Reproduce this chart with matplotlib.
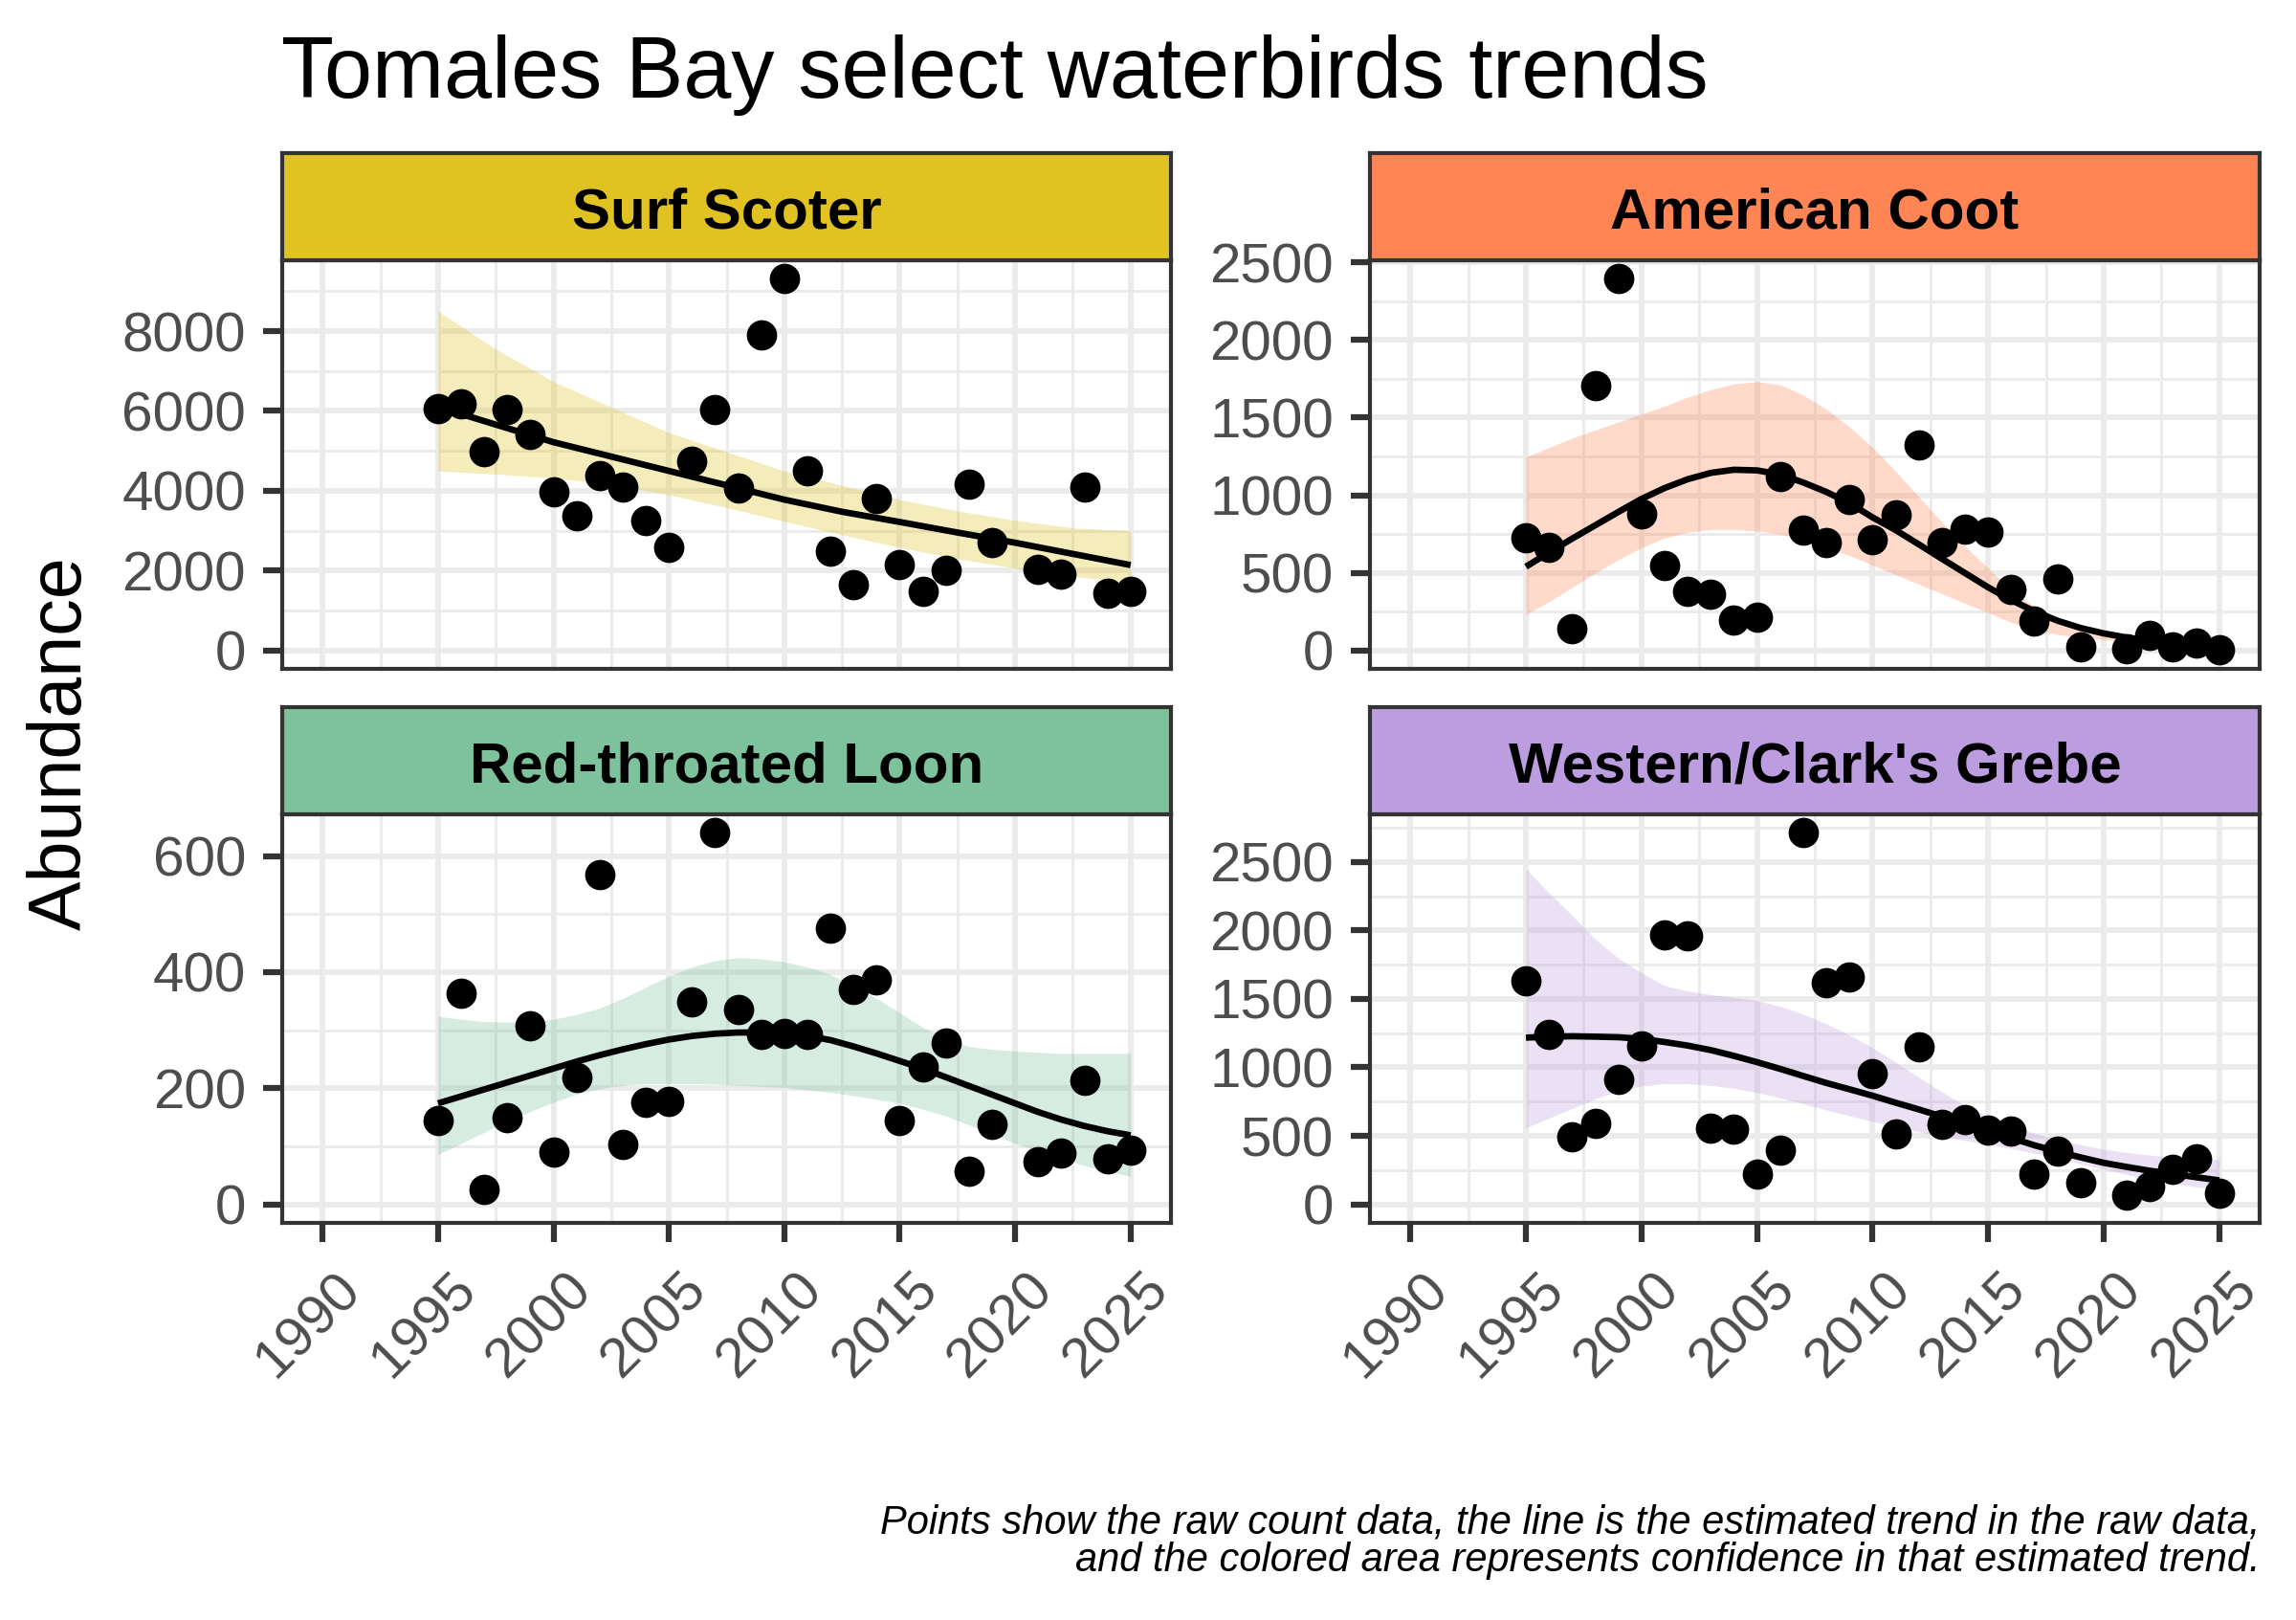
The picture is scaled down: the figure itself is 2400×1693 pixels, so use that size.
import matplotlib
matplotlib.use("Agg")
import matplotlib.pyplot as plt
import numpy as np
from matplotlib.ticker import MultipleLocator
from matplotlib.transforms import ScaledTranslation

plt.rcParams['font.family'] = ['Liberation Sans', 'DejaVu Sans']

# ---------------- data ----------------
years = [1995, 1996, 1997, 1998, 1999, 2000, 2001, 2002, 2003, 2004,
         2005, 2006, 2007, 2008, 2009, 2010, 2011, 2012, 2013, 2014,
         2015, 2016, 2017, 2018, 2019, 2021, 2022, 2023, 2024, 2025]

species = ["Surf Scoter", "American Coot", "Red-throated Loon", "Western/Clark's Grebe"]
strip_colors = ["#E0C322", "#FF8554", "#7DC29C", "#BC9DE0"]

surf_scoter = [6050, 6180, 4990, 6030, 5410, 3980, 3380, 4390, 4100, 3260,
               2580, 4740, 6030, 4060, 7910, 9310, 4500, 2480, 1640, 3800,
               2140, 1470, 2000, 4160, 2700, 2030, 1920, 4080, 1420, 1470]
american_coot = [728, 662, 138, 1706, 2395, 878, 545, 378, 364, 195,
                 214, 1123, 775, 693, 975, 713, 872, 1322, 693, 779,
                 765, 395, 189, 461, 21, 8, 97, 25, 49, 4]
rt_loon = [145, 364, 26, 150, 307, 90, 219, 568, 104, 176,
           178, 349, 640, 335, 293, 294, 293, 475, 371, 386,
           145, 236, 278, 57, 138, 74, 89, 214, 79, 94]
wc_grebe = [1632, 1241, 490, 588, 909, 1154, 1970, 1959, 553, 548,
            222, 392, 2712, 1616, 1660, 951, 513, 1147, 583, 618,
            543, 536, 222, 385, 156, 65, 128, 257, 331, 82]

# estimated trend (line) and confidence band
surf_trend_years = [1995, 1997.5, 2000, 2002.5, 2005, 2007.5, 2010, 2012.5,
                    2015, 2017.5, 2020, 2022.5, 2025]
surf_fit = [6100, 5656, 5216, 4856, 4496, 4136, 3776, 3472, 3216, 2952, 2696, 2416, 2136]
surf_hi = [8496, 7552, 6736, 6096, 5456, 4976, 4496, 4136, 3776, 3496, 3256, 3072, 2992]
surf_lo = [4496, 4416, 4320, 4160, 3896, 3576, 3232, 2896, 2576, 2296, 2056, 1856, 1696]

trend_years = [1995, 1996, 1997, 1998, 1999, 2000, 2001, 2002, 2003, 2004,
               2005, 2006, 2007, 2008, 2009, 2010, 2011, 2012, 2013, 2014,
               2015, 2016, 2017, 2018, 2019, 2020, 2021, 2022, 2023, 2024, 2025]

coot_fit = [539, 631, 720, 806, 892, 976, 1046, 1103, 1144, 1164,
            1160, 1134, 1082, 1021, 949, 857, 775, 683, 590, 498,
            406, 324, 252, 191, 144, 109, 82, 62, 45, 33, 24]
coot_hi = [1246, 1308, 1369, 1421, 1472, 1523, 1574, 1632, 1681, 1718,
           1732, 1712, 1646, 1554, 1441, 1308, 1154, 990, 826, 672,
           529, 385, 283, 211, 160, 135, 105, 82, 64, 51, 40]
coot_lo = [232, 314, 406, 498, 584, 662, 724, 761, 779, 779,
           769, 750, 713, 662, 611, 549, 488, 426, 365, 303,
           242, 180, 133, 102, 82, 68, 57, 47, 38, 31, 25]

loon_fit = [174, 186, 198, 210, 222, 234, 246, 257, 267, 276,
            284, 290, 294, 296, 296, 294, 290, 283, 272, 260,
            247, 234, 219, 204, 189, 174, 159, 146, 135, 126, 119]
loon_hi = [324, 319, 315, 314, 315, 319, 327, 338, 355, 374,
           393, 409, 420, 425, 423, 418, 409, 396, 377, 355,
           330, 305, 285, 272, 267, 264, 262, 260, 260, 260, 260]
loon_lo = [86, 105, 124, 144, 160, 176, 190, 199, 205, 208,
           208, 208, 207, 205, 203, 201, 197, 193, 187, 181,
           174, 164, 152, 137, 121, 105, 92, 79, 67, 57, 48]

grebe_fit = [1217, 1224, 1227, 1224, 1220, 1208, 1185, 1159, 1126, 1084,
             1038, 989, 937, 886, 840, 793, 742, 693, 641, 590,
             536, 485, 431, 385, 343, 303, 273, 245, 222, 198, 175]
grebe_hi = [2449, 2274, 2110, 1936, 1796, 1691, 1597, 1558, 1532, 1511,
            1488, 1446, 1388, 1318, 1236, 1143, 1038, 928, 821, 723,
            641, 576, 518, 471, 436, 403, 378, 359, 343, 331, 326]
grebe_lo = [560, 630, 700, 770, 828, 863, 881, 881, 868, 847,
            816, 777, 735, 688, 646, 606, 567, 529, 494, 466,
            438, 408, 373, 333, 296, 257, 217, 182, 152, 128, 105]

counts = [surf_scoter, american_coot, rt_loon, wc_grebe]
fit_years = [surf_trend_years, trend_years, trend_years, trend_years]
fits = [surf_fit, coot_fit, loon_fit, grebe_fit]
his = [surf_hi, coot_hi, loon_hi, grebe_hi]
los = [surf_lo, coot_lo, loon_lo, grebe_lo]
y_major = [2000, 500, 200, 500]

x_ticks = [1990, 1995, 2000, 2005, 2010, 2015, 2020, 2025]

title = "Tomales Bay select waterbirds trends"
ylabel = "Abundance"
caption1 = "Points show the raw count data, the line is the estimated trend in the raw data,"
caption2 = "and the colored area represents confidence in that estimated trend."

# ---------------- layout ----------------
W, H = 2400, 1693
fig = plt.figure(figsize=(8, H / 300), dpi=300)

def rect(x0, y0, x1, y1):
    return [x0 / W, 1 - y1 / H, (x1 - x0) / W, (y1 - y0) / H]

panel_x = [(295, 1224), (1432, 2362)]
panel_y = [(272, 699), (851, 1278)]
strip_h = 112

grid_c = "#EBEBEB"
dark = "#333333"

xr = (1990, 2025)
xpad = 0.05 * (xr[1] - xr[0])

for i in range(4):
    r, c = divmod(i, 2)
    x0, x1 = panel_x[c]
    y0, y1 = panel_y[r]
    ax = fig.add_axes(rect(x0, y0, x1, y1))
    col = strip_colors[i]

    ax.fill_between(fit_years[i], los[i], his[i], color=col, alpha=0.3, lw=0, zorder=2)
    ax.plot(fit_years[i], fits[i], color="black", lw=1.6, zorder=3,
            solid_capstyle="butt", solid_joinstyle="round")
    ax.scatter(years, counts[i], s=58, color="black", lw=0, zorder=4)

    ax.set_xlim(xr[0] - xpad, xr[1] + xpad)
    lo = min(0, min(counts[i]), min(los[i]))
    hi = max(max(counts[i]), max(his[i]))
    ypad = 0.05 * (hi - lo)
    ax.set_ylim(lo - ypad, hi + ypad)

    ax.set_xticks(x_ticks)
    ax.xaxis.set_minor_locator(MultipleLocator(2.5))
    ax.yaxis.set_major_locator(MultipleLocator(y_major[i]))
    ax.yaxis.set_minor_locator(MultipleLocator(y_major[i] / 2))

    ax.set_axisbelow(True)
    ax.grid(which="major", color=grid_c, lw=1.4, zorder=0)
    ax.grid(which="minor", color=grid_c, lw=0.7, zorder=0)

    for sp in ax.spines.values():
        sp.set_color(dark)
        sp.set_linewidth(1.0)

    ax.tick_params(which="major", length=4.8, width=1.5, color=dark,
                   labelsize=14, labelcolor="#4D4D4D", pad=4.3)
    ax.tick_params(which="minor", length=0)

    if r == 0:
        ax.tick_params(axis="x", which="both", bottom=False, labelbottom=False)
    else:
        ax.set_xticklabels([str(t) for t in x_ticks])
        off = ScaledTranslation(12 / 300, -4 / 300, fig.dpi_scale_trans)
        for lab in ax.get_xticklabels():
            lab.set_rotation(45)
            lab.set_ha("right")
            lab.set_va("top")
            lab.set_rotation_mode("anchor")
            lab.set_transform(lab.get_transform() + off)

    # strip
    sax = fig.add_axes(rect(x0, y0 - strip_h, x1, y0))
    sax.set_facecolor(col)
    sax.set_xticks([])
    sax.set_yticks([])
    for sp in sax.spines.values():
        sp.set_color(dark)
        sp.set_linewidth(1.0)
    sax.text(0.5, 0.30, species[i], transform=sax.transAxes, ha="center",
             va="baseline", fontsize=14.4, fontweight="bold", color="black")

fig.text(294 / W, 1 - 102 / H, title, ha="left", va="baseline", fontsize=21.6, color="black")
fig.text(64 / W, 1 - 777 / H, ylabel, ha="center", va="center", rotation=90,
         fontsize=18.5, color="black")
fig.text(2363 / W, 1 - 1602 / H, caption1, ha="right", va="baseline",
         fontsize=10, style="italic", color="black")
fig.text(2363 / W, 1 - 1642 / H, caption2, ha="right", va="baseline",
         fontsize=10, style="italic", color="black")

fig.savefig("out.png", dpi=300, facecolor="white")
